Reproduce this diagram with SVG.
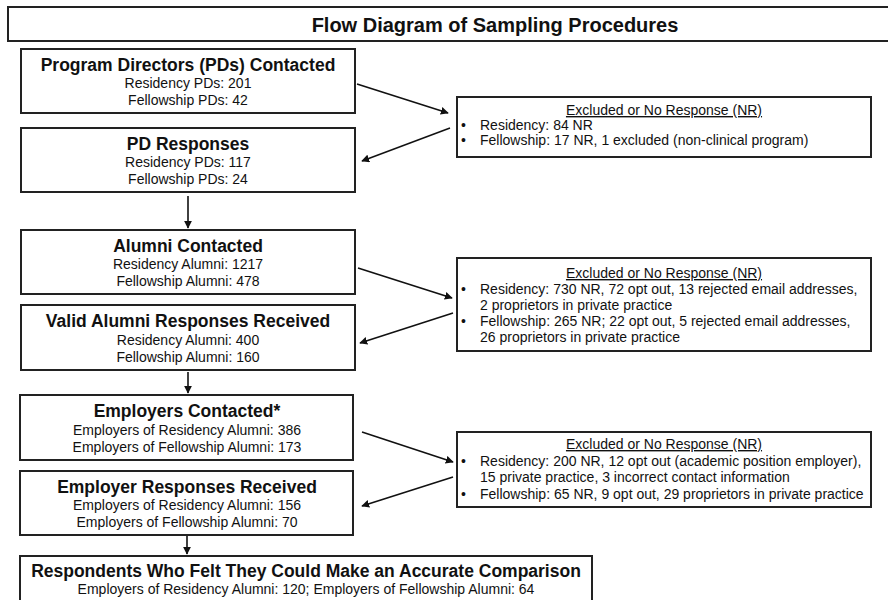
<svg xmlns="http://www.w3.org/2000/svg" width="888" height="600" viewBox="0 0 888 600">
<style>
.box{fill:#fff;stroke:#222;stroke-width:2}
.t{font-family:"Liberation Sans",Arial,sans-serif;fill:#111}
.title{font-size:20px;font-weight:bold;text-anchor:middle}
.h{font-size:17.5px;font-weight:bold;text-anchor:middle}
.s{font-size:14px;text-anchor:middle}
.x{font-size:14px}
.xh{font-size:14px;text-anchor:middle;text-decoration:underline}
.c{stroke:#111;stroke-width:1.6;fill:none;marker-end:url(#ah)}
</style>
<defs>
<marker id="ah" viewBox="0 0 10 10" refX="9" refY="5" markerWidth="5" markerHeight="5" orient="auto" markerUnits="strokeWidth">
<path d="M0,0 L10,5 L0,10 z" fill="#111"/>
</marker>
</defs>
<rect width="888" height="600" fill="#fff"/>
<g id="title">
<rect class="box" x="8" y="7" width="900" height="34"/>
<text class="t title" x="495" y="32">Flow Diagram of Sampling Procedures</text>
</g>
<g id="pd-contacted">
<rect class="box" x="21" y="49" width="334" height="64"/>
<text class="t h" x="188" y="71">Program Directors (PDs) Contacted</text>
<text class="t s" x="188" y="88">Residency PDs: 201</text>
<text class="t s" x="188" y="105">Fellowship PDs: 42</text>
</g>
<g id="pd-responses">
<rect class="box" x="21" y="128" width="334" height="64"/>
<text class="t h" x="188" y="150">PD Responses</text>
<text class="t s" x="188" y="167">Residency PDs: 117</text>
<text class="t s" x="188" y="184">Fellowship PDs: 24</text>
</g>
<g id="alumni-contacted">
<rect class="box" x="21" y="230" width="334" height="64"/>
<text class="t h" x="188" y="252">Alumni Contacted</text>
<text class="t s" x="188" y="269">Residency Alumni: 1217</text>
<text class="t s" x="188" y="286">Fellowship Alumni: 478</text>
</g>
<g id="alumni-responses">
<rect class="box" x="21" y="305" width="334" height="65"/>
<text class="t h" x="188" y="327">Valid Alumni Responses Received</text>
<text class="t s" x="188" y="345">Residency Alumni: 400</text>
<text class="t s" x="188" y="362">Fellowship Alumni: 160</text>
</g>
<g id="employers-contacted">
<rect class="box" x="20" y="395" width="333" height="65"/>
<text class="t h" x="187" y="417">Employers Contacted*</text>
<text class="t s" x="187" y="435">Employers of Residency Alumni: 386</text>
<text class="t s" x="187" y="452">Employers of Fellowship Alumni: 173</text>
</g>
<g id="employer-responses">
<rect class="box" x="20" y="471" width="333" height="64"/>
<text class="t h" x="187" y="493">Employer Responses Received</text>
<text class="t s" x="187" y="510">Employers of Residency Alumni: 156</text>
<text class="t s" x="187" y="527">Employers of Fellowship Alumni: 70</text>
</g>
<g id="respondents">
<rect class="box" x="20" y="556" width="572" height="60"/>
<text class="t h" x="306" y="577">Respondents Who Felt They Could Make an Accurate Comparison</text>
<text class="t s" x="306" y="594">Employers of Residency Alumni: 120; Employers of Fellowship Alumni: 64</text>
</g>
<g id="excluded-pd">
<rect class="box" x="457" y="97" width="414" height="60"/>
<text class="t xh" x="664" y="115">Excluded or No Response (NR)</text>
<text class="t x" x="461" y="130">•</text>
<text class="t x" x="480" y="130">Residency: 84 NR</text>
<text class="t x" x="461" y="145">•</text>
<text class="t x" x="480" y="145">Fellowship: 17 NR, 1 excluded (non-clinical program)</text>
</g>
<g id="excluded-alumni">
<rect class="box" x="457" y="258" width="414" height="93"/>
<text class="t xh" x="664" y="278">Excluded or No Response (NR)</text>
<text class="t x" x="461" y="294">•</text>
<text class="t x" x="480" y="294">Residency: 730 NR, 72 opt out, 13 rejected email addresses,</text>
<text class="t x" x="480" y="310">2 proprietors in private practice</text>
<text class="t x" x="461" y="326">•</text>
<text class="t x" x="480" y="326">Fellowship: 265 NR; 22 opt out, 5 rejected email addresses,</text>
<text class="t x" x="480" y="342">26 proprietors in private practice</text>
</g>
<g id="excluded-employers">
<rect class="box" x="457" y="432" width="414" height="75"/>
<text class="t xh" x="664" y="449">Excluded or No Response (NR)</text>
<text class="t x" x="461" y="466">•</text>
<text class="t x" x="480" y="466">Residency: 200 NR, 12 opt out (academic position employer),</text>
<text class="t x" x="480" y="482">15 private practice, 3 incorrect contact information</text>
<text class="t x" x="461" y="499">•</text>
<text class="t x" x="480" y="499">Fellowship: 65 NR, 9 opt out, 29 proprietors in private practice</text>
</g>
<g id="connectors">
<line class="c" x1="357" y1="84" x2="448" y2="113"/>
<line class="c" x1="450" y1="128" x2="362" y2="161"/>
<line class="c" x1="188" y1="196" x2="188" y2="228"/>
<line class="c" x1="358" y1="268" x2="452" y2="298"/>
<line class="c" x1="453" y1="313" x2="360" y2="343"/>
<line class="c" x1="188" y1="372" x2="188" y2="393"/>
<line class="c" x1="362" y1="432" x2="453" y2="462"/>
<line class="c" x1="453" y1="477" x2="362" y2="506"/>
<line class="c" x1="187" y1="536" x2="187" y2="554"/>
</g>
</svg>
